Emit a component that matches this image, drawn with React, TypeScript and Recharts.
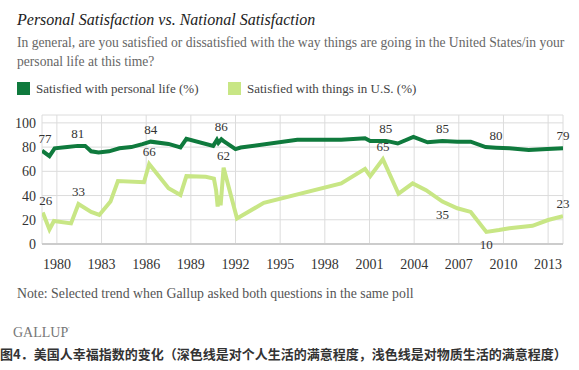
import React from "react";
import {
  LineChart,
  Line,
  XAxis,
  YAxis,
  CartesianGrid,
  LabelList,
} from "recharts";

// Satisfied with personal life (%)
const personalYears = [
  1979, 1979.5, 1979.85, 1980.7, 1981.4, 1981.9, 1982.3, 1982.8, 1983.5, 1984.2,
  1985, 1985.75, 1986.3, 1987.5, 1988.3, 1988.7, 1990.5, 1990.75, 1990.85,
  1991.05, 1991.2, 1992, 1992.35, 1996.15, 1999.1, 2000.7, 2001.05, 2001.9,
  2002.1, 2002.35, 2002.9, 2003.95, 2004.9, 2005.9, 2006.9, 2007.8, 2008.8,
  2009.5, 2010.4, 2011.7, 2012.95, 2014,
];
const personalValues = [
  77, 72.5, 79, 80, 81, 81, 76.5, 75.5, 76.5, 79, 80, 82.5, 84.5, 82.6, 79.8,
  86.8, 81, 86, 83.5, 86.5, 85, 78.3, 79.6, 86, 86, 87.3, 85, 85, 85, 84.5, 83,
  88.5, 84, 85, 84.5, 84.5, 80, 79.5, 79, 77.7, 78.5, 79,
];

// Satisfied with things in U.S. (%)
const nationalYears = [
  1979.05, 1979.5, 1979.8, 1980.95, 1981.45, 1982.3, 1982.85, 1983.6, 1984.1,
  1985.85, 1986.2, 1987.5, 1988.3, 1988.7, 1990, 1990.55, 1990.7, 1990.8,
  1990.9, 1991, 1991.2, 1992.1, 1993.9, 1999.1, 2000.7, 2001.05, 2001.9,
  2002.95, 2003.9, 2004.8, 2005.9, 2006.9, 2007.8, 2008.85, 2009.7, 2010.4,
  2011.95, 2013, 2014,
];
const nationalValues = [
  26, 12, 19, 17, 33, 26.5, 24, 35, 52, 51, 66, 46, 40.5, 56, 55.5, 54, 44, 31,
  40, 32, 63, 21, 34, 50, 62, 56, 70, 41.5, 50, 44.5, 35, 29.5, 26.5, 10, 11.5,
  13, 15, 19.8, 23,
];

// annotated values
const personalLabelYears = [1979, 1981.4, 1986.3, 1991.05, 2002.1, 2005.9, 2009.5, 2014];
const personalLabelTexts = ["77", "81", "84", "86", "85", "85", "80", "79"];
const nationalLabelYears = [1979.05, 1981.45, 1986.2, 1991.2, 2001.9, 2005.9, 2008.85, 2014];
const nationalLabelTexts = ["26", "33", "66", "62", "65", "35", "10", "23"];
const nationalBelow = ["35", "10"];

const yearTicks = [1980, 1983, 1986, 1989, 1992, 1995, 1998, 2001, 2004, 2007, 2010, 2013];
const valueTicks = [0, 20, 40, 60, 80, 100];

const personalData = personalYears.map((year, i) => ({ year, value: personalValues[i] }));
const nationalData = nationalYears.map((year, i) => ({ year, value: nationalValues[i] }));

const DARK = "#0f7a3d";
const LIGHT = "#c8e685";
const SERIF = "'Liberation Serif', 'Times New Roman', serif";

function makeLabel(years: number[], labelYears: number[], texts: string[], below: string[]) {
  return (props: any) => {
    const { x, y, index } = props;
    const k = labelYears.indexOf(years[index]);
    if (k < 0) return null;
    const text = texts[k];
    const isBelow = below.includes(text);
    return (
      <text
        x={index === 0 ? x + 3 : x}
        y={isBelow ? y + 17 : y - 8}
        textAnchor="middle"
        fontSize={13}
        fontFamily={SERIF}
        fill="#333"
      >
        {text}
      </text>
    );
  };
}

export default function App() {
  return (
    <div
      style={{
        position: "absolute",
        left: 0,
        top: 0,
        width: 579,
        height: 370,
        background: "#fff",
        fontFamily: SERIF,
      }}
    >
      <div
        style={{
          position: "absolute",
          left: 17,
          top: 10,
          fontSize: 16,
          lineHeight: "20px",
          fontStyle: "italic",
          color: "#222",
          whiteSpace: "nowrap",
        }}
      >
        Personal Satisfaction vs. National Satisfaction
      </div>
      <div
        style={{
          position: "absolute",
          left: 17,
          top: 33,
          fontSize: 13.6,
          lineHeight: "19px",
          color: "#666",
          whiteSpace: "nowrap",
        }}
      >
        In general, are you satisfied or dissatisfied with the way things are going in the United States/in your
        <br />
        personal life at this time?
      </div>

      {/* legend */}
      <div style={{ position: "absolute", left: 17, top: 82, width: 13, height: 13, background: DARK }} />
      <div
        style={{ position: "absolute", left: 36, top: 79, fontSize: 13, lineHeight: "19px", color: "#444", whiteSpace: "nowrap" }}
      >
        Satisfied with personal life (%)
      </div>
      <div style={{ position: "absolute", left: 228, top: 82, width: 13, height: 13, background: LIGHT }} />
      <div
        style={{ position: "absolute", left: 247, top: 79, fontSize: 13, lineHeight: "19px", color: "#444", whiteSpace: "nowrap" }}
      >
        Satisfied with things in U.S. (%)
      </div>

      <div style={{ position: "absolute", left: 0, top: 100 }}>
        <LineChart width={579} height={180} margin={{ top: 15, right: 16, bottom: 0, left: 0 }}>
          <CartesianGrid stroke="#dcdcdc" strokeWidth={1} />
          <XAxis
            dataKey="year"
            type="number"
            domain={[1979, 2014]}
            ticks={yearTicks}
            allowDataOverflow
            height={36}
            tickLine={false}
            axisLine={{ stroke: "#cccccc", strokeWidth: 2 }}
            tickMargin={9}
            tick={{ fontSize: 14, fontFamily: SERIF, fill: "#333" }}
          />
          <YAxis
            type="number"
            domain={[0, 106.5]}
            ticks={valueTicks}
            width={42}
            tickLine={false}
            axisLine={false}
            tickSize={6}
            tickMargin={0}
            tick={{ fontSize: 14, fontFamily: SERIF, fill: "#333" }}
          />
          <Line
            data={nationalData}
            dataKey="value"
            stroke={LIGHT}
            strokeWidth={4}
            dot={false}
            isAnimationActive={false}
          >
            <LabelList content={makeLabel(nationalYears, nationalLabelYears, nationalLabelTexts, nationalBelow)} />
          </Line>
          <Line
            data={personalData}
            dataKey="value"
            stroke={DARK}
            strokeWidth={4}
            dot={false}
            isAnimationActive={false}
          >
            <LabelList content={makeLabel(personalYears, personalLabelYears, personalLabelTexts, [])} />
          </Line>
        </LineChart>
      </div>

      <div
        style={{ position: "absolute", left: 17, top: 285, fontSize: 13.8, lineHeight: "18px", color: "#555", whiteSpace: "nowrap" }}
      >
        Note: Selected trend when Gallup asked both questions in the same poll
      </div>
      <div
        style={{ position: "absolute", left: 13, top: 320, fontSize: 14, lineHeight: "18px", color: "#777", whiteSpace: "nowrap" }}
      >
        GALLUP<sup style={{ fontSize: 6 }}>'</sup>
      </div>
      <div
        style={{
          position: "absolute",
          left: 0,
          top: 345,
          fontSize: 13,
          lineHeight: "18px",
          fontWeight: "bold",
          color: "#333",
          whiteSpace: "nowrap",
          fontFamily: "'Noto Sans CJK SC', sans-serif",
        }}
      >
        图4．美国人幸福指数的变化（深色线是对个人生活的满意程度，浅色线是对物质生活的满意程度）
      </div>
    </div>
  );
}
